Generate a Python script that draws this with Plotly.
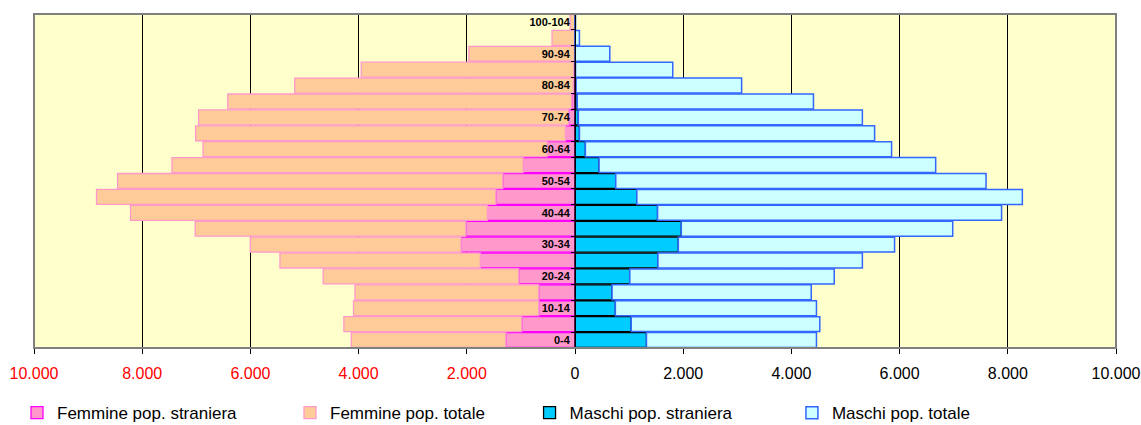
import plotly.graph_objects as go

# classi di età (dal basso verso l'alto)
eta = ['0-4', '5-9', '10-14', '15-19', '20-24', '25-29', '30-34', '35-39',
       '40-44', '45-49', '50-54', '55-59', '60-64', '65-69', '70-74', '75-79',
       '80-84', '85-89', '90-94', '95-99', '100-104']

femmine_totale = [4135, 4272, 4094, 4067, 4655, 5454, 6001, 7020, 8216, 8844, 8455,
                  7450, 6876, 7013, 6958, 6418, 5181, 3951, 1962, 424, 90]
femmine_straniere = [1278, 984, 670, 670, 1039, 1750, 2105, 2016, 1620, 1463, 1333,
                     957, 513, 178, 116, 60, 30, 20, 10, 5, 0]
maschi_totale = [4463, 4525, 4463, 4367, 4792, 5312, 5907, 6982, 7885, 8269, 7598,
                 6667, 5852, 5538, 5312, 4408, 3080, 1807, 643, 82, 10]
maschi_stranieri = [1321, 1040, 746, 685, 1013, 1533, 1910, 1965, 1526, 1143, 753,
                    445, 192, 82, 62, 41, 20, 10, 5, 0, 0]

tick_vals = [-10000, -8000, -6000, -4000, -2000, 0, 2000, 4000, 6000, 8000, 10000]


def fmt(v):
    s = f'{abs(v):,}'.replace(',', '.')
    if v < 0:
        return f'<span style="color:#FF0000">{s}</span>'
    return s


# pop. straniera vicino allo zero, il resto della pop. totale in coda
f_rest = [-(t - s) for t, s in zip(femmine_totale, femmine_straniere)]
m_rest = [t - s for t, s in zip(maschi_totale, maschi_stranieri)]

fig = go.Figure()
fig.add_trace(go.Bar(y=eta, x=[-v for v in femmine_straniere], orientation='h',
                     name='Femmine pop. straniera', legend='legend',
                     marker=dict(color='#FF99CC', line=dict(color='#FF00FF', width=1.3))))
fig.add_trace(go.Bar(y=eta, x=f_rest, orientation='h',
                     name='Femmine pop. totale', legend='legend2',
                     marker=dict(color='#FFCC99', line=dict(color='#FF99CC', width=1.3))))
fig.add_trace(go.Bar(y=eta, x=maschi_stranieri, orientation='h',
                     name='Maschi pop. straniera', legend='legend3',
                     marker=dict(color='#00CCFF', line=dict(color='#000000', width=1.3))))
fig.add_trace(go.Bar(y=eta, x=m_rest, orientation='h',
                     name='Maschi pop. totale', legend='legend4',
                     marker=dict(color='#CCFFFF', line=dict(color='#3366FF', width=1.5))))

leg = dict(orientation='h', yanchor='middle', y=-0.195, xanchor='left',
           bgcolor='rgba(0,0,0,0)', font=dict(size=17, color='#000000'),
           itemwidth=30, tracegroupgap=0, visible=True)

fig.update_layout(
    width=1141, height=425,
    margin=dict(l=34, r=25, t=14, b=77, autoexpand=False),
    showlegend=True,
    barmode='relative', bargap=0.06,
    plot_bgcolor='#FFFFCC', paper_bgcolor='#FFFFFF',
    font=dict(family='Arial, Liberation Sans, sans-serif', size=16, color='#000000'),
    legend=dict(leg, x=-0.0157),
    legend2=dict(leg, x=0.2366),
    legend3=dict(leg, x=0.458),
    legend4=dict(leg, x=0.7005),
    xaxis=dict(range=[-10000, 10000], tickvals=tick_vals,
               ticktext=[fmt(v) for v in tick_vals],
               showgrid=True, gridcolor='#000000', gridwidth=1,
               zeroline=False, ticks='outside', ticklen=5, tickcolor='#000000',
               showline=True, linecolor='#000000', linewidth=1,
               ticklabelstandoff=6, automargin=False,
               tickfont=dict(size=16)),
    yaxis=dict(type='category', categoryorder='array', categoryarray=eta,
               anchor='free', position=0.5, automargin=False,
               tickvals=eta,
               ticktext=[f'<b>{e}</b>' if i % 2 == 0 else '' for i, e in enumerate(eta)],
               tickson='boundaries', ticks='outside', ticklen=4, tickcolor='#000000',
               showline=True, linecolor='#000000', linewidth=1,
               ticklabelstandoff=3,
               showgrid=False, zeroline=False,
               tickfont=dict(size=11, color='#000000')),
)

# cornice dell'area del grafico
fig.add_shape(type='rect', xref='paper', yref='paper', x0=0, x1=1, y0=0, y1=1,
              line=dict(color='#808080', width=2), layer='above')

# niente margine di default del body, così il grafico occupa tutta la finestra
fig.write_html('out.html', config={'displayModeBar': False},
               post_script="document.body.style.margin='0';document.body.style.overflow='hidden';")
